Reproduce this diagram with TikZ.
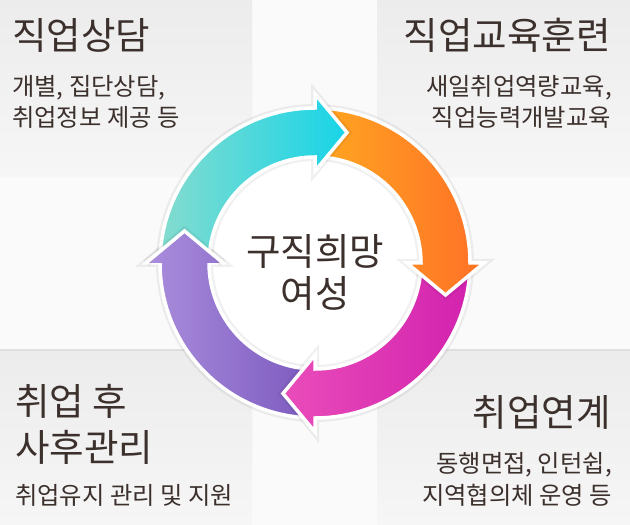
\documentclass[tikz,border=0pt]{standalone}
\usepackage{fontspec}
\newfontfamily\kr{Noto Sans CJK KR}
\usetikzlibrary{calc}
\definecolor{txt}{HTML}{3B302C}
\definecolor{bgcol}{HTML}{FAFAFA}
\definecolor{panelTop}{HTML}{ECECEC}
\definecolor{panelBot}{HTML}{F6F6F6}
\definecolor{tealL}{HTML}{86DCCE}
\definecolor{tealR}{HTML}{16D4E8}
\definecolor{oraL}{HTML}{FFA820}
\definecolor{oraR}{HTML}{FF7027}
\definecolor{magL}{HTML}{EA4DBA}
\definecolor{magR}{HTML}{D222AE}
\definecolor{purL}{HTML}{AB8EDD}
\definecolor{purR}{HTML}{7A58BE}
\begin{document}
\begin{tikzpicture}[x=1pt,y=1pt,
  panel/.style={top color=panelTop, bottom color=panelBot, draw=none},
  title/.style={font=\kr\fontsize{37.5}{44}\selectfont, text=txt, inner sep=0pt},
  sub/.style={font=\kr\fontsize{24.3}{29}\selectfont, text=txt, inner sep=0pt},
  arrowshape/.style 2 args={insert path={
    ($(C)+(#1:155)$) arc[start angle=#1, end angle=#2, radius=155pt]
    -- ($(C)+(#2:169)$) -- ($(C)+(#2:130.5)+(#2-90:32)$) -- ($(C)+(#2:92)$)
    -- ($(C)+(#2:106)$) arc[start angle=#2, end angle=#1, radius=106pt] -- cycle}},
  headshape/.style={insert path={
    ($(C)+(#1:169)$) -- ($(C)+(#1:130.5)+(#1-90:32)$) -- ($(C)+(#1:92)$) -- cycle}},
  headedge/.style={insert path={
    ($(C)+(#1:169)$) -- ($(C)+(#1:130.5)+(#1-90:32)$) -- ($(C)+(#1:92)$)}},
  shadowline/.style={draw=black, draw opacity=0.06, line width=8pt, line join=miter},
  outline/.style={draw=white, line width=3.5pt, line join=miter}
]
\useasboundingbox (0,0) rectangle (630,525);
\fill[bgcol] (0,0) rectangle (630,525);
\coordinate (C) at (315,262);

% panels
\fill[panel] (0,348) rectangle (252,525);
\fill[panel] (377,348) rectangle (630,525);
\fill[panel] (0,0) rectangle (252,175);
\fill[panel] (377,0) rectangle (630,175);
\draw[black, opacity=0.05, line width=1.5pt] (0,175) -- (252,175);
\draw[black, opacity=0.05, line width=1.5pt] (377,175) -- (630,175);

% inner disk
\fill[white] (C) circle[radius=106pt];

% purple arrow
\path[shadowline, arrowshape={-93}{-180}];
\begin{scope}
  \clip[arrowshape={-93}{-180}];
  \fill[left color=purL, right color=purR] (144,90) rectangle (318,300);
\end{scope}
\path[outline, arrowshape={-93}{-180}];

% magenta arrow
\path[shadowline, arrowshape={-3}{-90}];
\begin{scope}
  \clip[arrowshape={-3}{-90}];
  \fill[left color=magL, right color=magR] (280,90) rectangle (472,268);
\end{scope}
\path[outline, arrowshape={-3}{-90}];

% orange arrow
\path[shadowline, arrowshape={87}{0}];
\begin{scope}
  \clip[arrowshape={87}{0}];
  \fill[left color=oraL, right color=oraR] (312,225) rectangle (487,420);
\end{scope}
\path[outline, arrowshape={87}{0}];

% teal arrow
\path[shadowline, arrowshape={177}{90}];
\begin{scope}
  \clip[arrowshape={177}{90}];
  \fill[left color=tealL, right color=tealR] (157,255) rectangle (350,435);
\end{scope}
\path[outline, arrowshape={177}{90}];

% purple head again, over the start of the teal arrow
\path[shadowline, headedge={-180}];
\begin{scope}
  \clip[headshape={-180}];
  \fill[left color=purL, right color=purR] (144,90) rectangle (318,300);
\end{scope}
\path[outline, headedge={-180}];

% centre text
\node[title] (c1) at (315,274) {구직희망};
\node[title] (c2) at (315,232) {여성};

% top left
\node[title, anchor=west] (t1) at (12,490) {직업상담};
\node[sub, anchor=west] (t1a) at (12,437) {개별, 집단상담,};
\node[sub, anchor=west] (t1b) at (12,408) {취업정보 제공 등};

% top right
\node[title, anchor=east] (t2) at (611,490) {직업교육훈련};
\node[sub, anchor=east] (t2a) at (612,437) {새일취업역량교육,};
\node[sub, anchor=east] (t2b) at (611,408) {직업능력개발교육};

% bottom right
\node[title, anchor=east] (t3) at (611,113) {취업연계};
\node[sub, anchor=east] (t3a) at (612,60) {동행면접, 인턴쉽,};
\node[sub, anchor=east] (t3b) at (612,30) {지역협의체 운영 등};

% bottom left
\node[title, anchor=west] (t4) at (15,124) {취업 후};
\node[title, anchor=west] (t4b) at (15,78) {사후관리};
\node[sub, anchor=west] (t4c) at (15,30) {취업유지 관리 및 지원};
\end{tikzpicture}
\end{document}
